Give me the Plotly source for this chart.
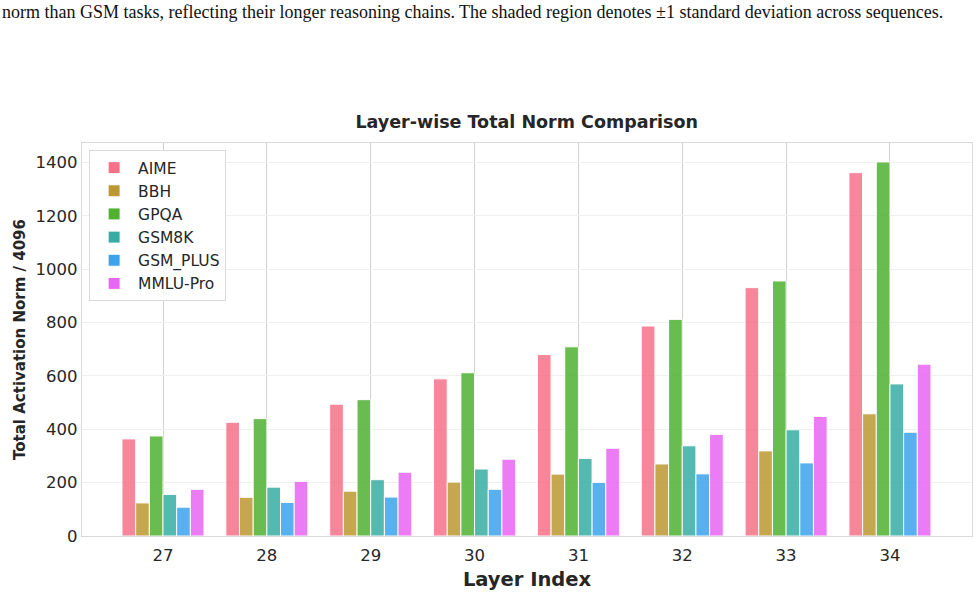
import plotly.graph_objects as go

layers = ["27", "28", "29", "30", "31", "32", "33", "34"]
datasets = ["AIME", "BBH", "GPQA", "GSM8K", "GSM_PLUS", "MMLU-Pro"]
aime = [364, 426, 494, 589, 680, 787, 931, 1362]
bbh = [124, 145, 168, 202, 232, 270, 319, 458]
gpqa = [375, 440, 511, 612, 709, 812, 956, 1402]
gsm8k = [156, 183, 211, 251, 291, 338, 398, 570]
gsm_plus = [108, 126, 146, 175, 201, 233, 274, 389]
mmlu_pro = [175, 205, 239, 288, 329, 381, 448, 644]
series = [aime, bbh, gpqa, gsm8k, gsm_plus, mmlu_pro]
colors = ["#f77189", "#bb9832", "#50b131", "#36ada4", "#3ba3ec", "#e866f4"]

fig = go.Figure()
for name, vals, c in zip(datasets, series, colors):
    fig.add_trace(go.Bar(
        x=layers, y=vals, name=name,
        marker=dict(color=c, opacity=0.85, line=dict(color="white", width=1)),
    ))

font_main = "DejaVu Sans"
fig.update_layout(
    width=979, height=605,
    paper_bgcolor="white", plot_bgcolor="white",
    margin=dict(l=82, r=7, t=143, b=69),
    barmode="group", bargap=0.21, bargroupgap=0,
    font=dict(family=font_main, size=15, color="#262626"),
    title=dict(text="<b>Layer-wise Total Norm Comparison</b>", x=0.538, xanchor="center",
               y=1 - 122 / 605, yanchor="middle",
               font=dict(family=font_main, size=17.5, color="#262626")),
    showlegend=True,
    legend=dict(x=0.008, y=0.982, xanchor="left", yanchor="top",
                bgcolor="rgba(255,255,255,0.9)", bordercolor="#d9d9d9", borderwidth=1,
                font=dict(family=font_main, size=15.5, color="#262626"),
                tracegroupgap=0, itemwidth=38),
    xaxis=dict(
        type="category", range=[-0.78, 7.79],
        showgrid=True, gridcolor="#d0d0d0", gridwidth=1,
        showline=True, linecolor="#d9d9d9", linewidth=1.2, mirror=True,
        ticks="", ticklabelstandoff=4,
        tickfont=dict(size=16.5, color="#262626"),
        title=dict(text="<b>Layer Index</b>", font=dict(size=19.5, color="#262626"), standoff=8),
    ),
    yaxis=dict(
        range=[0, 1473], tickvals=[0, 200, 400, 600, 800, 1000, 1200, 1400],
        showgrid=True, gridcolor="#efefef", gridwidth=1, zeroline=False,
        showline=True, linecolor="#d9d9d9", linewidth=1.2, mirror=True,
        ticks="", tickfont=dict(size=16.5, color="#262626"),
        title=dict(text="<b>Total Activation Norm / 4096</b>", font=dict(size=15, color="#262626"), standoff=6),
    ),
)

fig.add_annotation(
    text="norm than GSM tasks, reflecting their longer reasoning chains. The shaded region denotes \u00b11 standard deviation across sequences.",
    xref="paper", yref="paper", x=-82 / 890, y=1 + (143 - 12) / 393,
    xanchor="left", yanchor="middle", showarrow=False,
    font=dict(family="Liberation Serif", size=18, color="#111111"),
)

fig.write_html("out.html")
